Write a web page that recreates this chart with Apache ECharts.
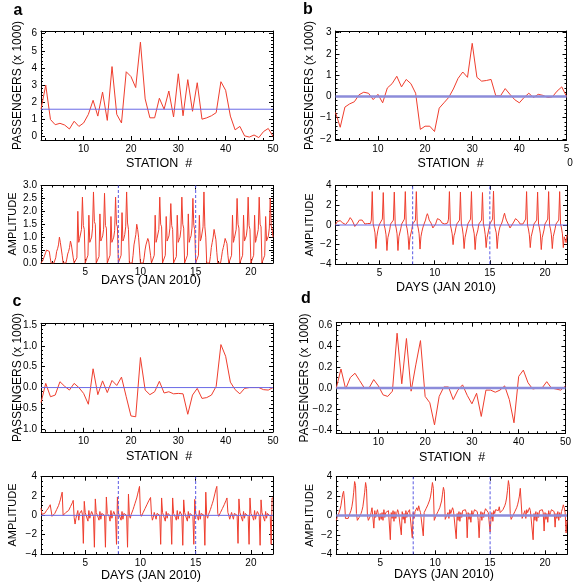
<!DOCTYPE html>
<html><head><meta charset="utf-8">
<script src="https://cdn.jsdelivr.net/npm/echarts@6/dist/echarts.min.js"></script>
<style>html,body{margin:0;padding:0;background:#fff}#chart{width:574px;height:583px}</style>
</head><body><div id="chart"></div>
<script>
// ---------- DATA ----------
const stations = [1,2,3,4,5,6,7,8,9,10,11,12,13,14,15,16,17,18,19,20,21,22,23,24,25,26,27,28,29,30,31,32,33,34,35,36,37,38,39,40,41,42,43,44,45,46,47,48,49,50];
const passengersA = [1.6,3.0,1.0,0.7,0.78,0.68,0.45,0.9,0.6,0.8,1.3,2.12,1.2,2.6,0.95,4.08,1.3,0.8,3.78,3.5,2.86,5.5,2.2,1.1,1.1,2.24,1.6,2.66,1.15,3.66,1.22,3.32,1.48,3.14,1.02,1.1,1.22,1.4,3.2,2.7,1.2,0.4,0.6,0.05,-0.02,0.1,-0.05,0.3,0.48,0.02];
const meanA = 1.6;
const passengersB = [-0.75,-1.45,-0.5,-0.35,-0.25,0.08,0.2,0.15,-0.15,0.1,-0.3,0.4,0.6,0.95,0.45,0.8,0.6,0.15,-1.55,-1.4,-1.4,-1.65,-0.55,-0.3,-0.05,0.35,0.85,1.15,0.9,2.5,0.9,0.72,0.75,0.8,0.03,0.03,0.37,0.1,-0.15,-0.3,-0.05,0.15,-0.05,0.1,0.05,-0.05,-0.02,0.25,0.45,0.0];
const passengersC = [-0.36,0.1,-0.22,-0.18,0.14,0.03,-0.06,0.1,0.0,-0.14,-0.4,0.45,-0.17,0.16,-0.12,0.17,0.05,0.25,-0.22,-0.68,-0.7,0.72,-0.06,-0.17,-0.1,0.15,-0.13,-0.1,-0.15,-0.14,-0.15,-0.64,-0.18,-0.02,-0.26,-0.24,-0.18,0.03,1.03,0.75,0.13,-0.05,-0.15,-0.02,0.0,0.0,0.0,-0.05,-0.06,0.0];
const passengersD = [0.0,0.18,-0.01,0.1,0.14,0.07,0.0,0.0,0.08,0.02,-0.065,-0.08,-0.03,0.52,0.04,0.47,-0.03,0.22,0.45,-0.08,-0.14,-0.35,-0.08,0.01,0.01,-0.11,-0.02,0.03,-0.07,-0.15,-0.05,-0.27,-0.02,-0.02,-0.04,-0.02,0.02,-0.11,-0.33,0.11,0.17,0.05,-0.01,0.0,0.0,0.06,0.0,-0.01,-0.02,0.02];
const zeroLine = 0;

const days = [1,2,3,4,5,6,7,8,9,10,11,12,13,14,15,16,17,18,19,20,21,22];
const hoursOfDay = [0,2,4,6,8,10,12,14,16,18,20,22];
const amplitudeA = [
 [0,0.05,0.1,0.2,0.3,0.4,0.5,0.55,0.48,0.45,0.2,0],
 [0,0,0,0,0.2,0.45,0.55,0.7,1.0,0.8,0.75,0.3],
 [0,0,0,0,0.15,0.35,0.45,0.6,0.85,0.7,0.65,0.2],
 [0,0,0,0.2,2.0,0.8,0.95,1.0,1.3,2.55,1.45,1.3],
 [0,0,0,0.3,1.85,0.8,0.9,1.0,1.35,2.75,1.6,1.5],
 [0,0,0,0.25,1.9,0.85,0.95,1.05,1.3,2.7,1.45,1.35],
 [0,0,0,0.3,1.8,0.8,0.9,1.0,1.25,2.55,1.5,1.4],
 [0,0,0,0.3,1.95,0.85,0.95,1.1,1.4,2.75,1.55,1.3],
 [0,0,0,0,0.3,0.7,0.9,1.1,1.5,1.3,1.0,0.5],
 [0,0,0,0,0.2,0.5,0.7,0.75,0.95,0.85,0.8,0.3],
 [0,0,0,0.3,1.85,0.8,0.95,1.0,1.3,2.55,1.5,1.4],
 [0,0,0,0.3,1.8,0.85,0.9,1.05,1.35,2.3,1.45,1.3],
 [0,0,0,0.25,1.85,0.8,0.9,1.0,1.3,2.55,1.5,1.35],
 [0,0,0,0.3,1.9,0.8,0.95,1.05,1.35,2.5,1.45,1.3],
 [0,0,0,0.3,1.85,0.85,0.95,1.0,1.4,2.75,1.4,1.0],
 [0,0,0,0,0.25,0.6,0.8,1.0,1.3,1.1,0.9,0.4],
 [0,0,0,0,0.2,0.45,0.6,0.75,0.95,0.85,0.75,0.3],
 [0,0,0,0.3,1.85,0.8,0.95,1.0,1.3,2.5,1.5,1.35],
 [0,0,0,0.3,1.85,0.85,0.9,1.05,1.35,2.55,1.45,1.3],
 [0,0,0,0.3,1.85,0.8,0.95,1.0,1.3,2.55,1.5,1.4],
 [0,0,0,0.3,1.8,0.85,0.9,1.05,1.35,2.5,1.45,1.3],
 [1.0]
];
const amplitudeB = [
 [0.05,0.2,0.35,0.45,0.5,0.45,0.35,0.3,0.2,0.1,0.05,0.05],
 [0.1,0.2,0.4,0.6,0.75,0.7,0.5,0.35,0.1,-0.15,-0.1,0.05],
 [0.2,0.35,0.5,0.65,0.6,0.5,0.4,0.3,0.1,0.1,0.2,0.15],
 [0.1,0.1,0.15,0.5,3.4,0.1,-0.3,-0.8,-2.4,-1.2,-0.6,-0.2],
 [0.1,0.1,0.2,0.6,3.3,0.0,-0.4,-1.0,-2.6,-1.3,-1.4,-0.5],
 [0.1,0.1,0.2,0.5,3.35,0.1,-0.3,-0.9,-2.6,-1.2,-1.3,-0.4],
 [0.1,0.1,0.2,0.6,3.4,0.0,-0.4,-1.1,-2.5,-1.3,-1.2,-0.5],
 [0.1,0.1,0.2,0.5,3.4,0.1,-0.3,-0.9,-2.45,-1.2,-0.7,-0.3],
 [0.0,0.2,0.5,0.9,1.15,0.9,0.5,0.3,0.2,0.0,-0.3,-0.4],
 [-0.1,0.1,0.4,0.65,0.75,0.6,0.5,0.35,0.2,0.1,0.05,0.1],
 [0.1,0.1,0.2,0.6,3.4,0.0,-0.4,-0.9,-2.0,-1.1,-0.8,-0.3],
 [0.1,0.1,0.2,0.5,3.35,0.1,-0.3,-1.0,-2.4,-1.3,-1.2,-0.4],
 [0.1,0.1,0.2,0.6,3.4,0.0,-0.4,-0.9,-2.5,-1.2,-1.1,-0.5],
 [0.1,0.1,0.2,0.5,3.3,0.1,-0.3,-1.0,-2.3,-1.3,-1.2,-0.4],
 [0.1,0.1,0.2,0.6,3.45,0.0,-0.4,-0.8,-2.4,-1.2,-0.6,-0.2],
 [0.0,0.2,0.5,0.9,1.2,0.8,0.5,0.3,0.1,-0.1,-0.3,-0.2],
 [0.0,0.1,0.3,0.5,0.65,0.75,0.6,0.4,0.2,0.1,0.15,0.2],
 [0.1,0.1,0.2,0.6,3.4,0.0,-0.4,-1.0,-2.3,-1.2,-1.1,-0.4],
 [0.1,0.1,0.2,0.5,3.35,0.1,-0.3,-0.9,-2.5,-1.3,-1.2,-0.5],
 [0.1,0.1,0.2,0.6,3.4,0.0,-0.4,-1.0,-2.4,-1.2,-1.1,-0.4],
 [0.1,0.1,0.2,0.5,3.4,0.1,-0.3,-0.9,-2.3,-1.2,-1.5,-1.8],
 [-1.0]
];
const amplitudeC = [
 [0.75,0.1,0.0,0.1,0.2,0.35,0.5,0.6,0.75,0.9,1.1,1.3],
 [-0.1,-0.2,0.0,0.2,0.4,0.6,0.8,1.0,1.3,1.6,2.0,2.4],
 [0.0,-0.2,0.0,0.3,0.1,0.3,0.5,0.7,0.9,1.1,1.3,1.55],
 [-0.2,-0.9,-0.3,0.1,0.5,-0.5,0.2,0.4,0.5,0.1,-2.9,1.45],
 [0.3,0.0,-0.2,-0.6,0.5,-0.3,0.1,0.4,0.3,-0.1,-3.3,1.7],
 [0.3,0.1,-0.2,-0.5,0.4,-0.4,0.2,0.3,0.4,0.0,-3.3,1.9],
 [0.2,0.0,-0.1,-0.6,0.5,-0.3,0.1,0.4,0.3,-0.1,-3.0,1.9],
 [0.3,0.0,-0.2,-0.5,0.4,-0.4,0.2,0.35,0.3,0.0,-3.3,2.2],
 [0.0,-0.3,0.1,0.3,0.6,0.9,1.2,1.5,1.8,2.2,2.6,3.0],
 [0.2,-0.1,0.0,0.3,0.5,0.7,0.9,1.1,1.3,1.5,1.7,1.85],
 [0.1,-0.5,-0.2,0.3,0.5,-0.4,0.2,0.4,0.3,0.0,-3.0,1.8],
 [0.3,0.0,-0.2,-0.6,0.4,-0.3,0.2,0.35,0.4,-0.1,-3.0,1.8],
 [0.2,0.1,-0.2,-0.5,0.5,-0.4,0.1,0.4,0.3,0.0,-3.1,1.6],
 [0.3,0.0,-0.1,-0.6,0.4,-0.3,0.2,0.3,0.4,-0.1,-3.0,1.65],
 [0.2,0.0,-0.2,-0.5,0.5,-0.4,0.2,0.35,0.3,0.0,-3.1,2.4],
 [0.0,-0.3,0.1,0.3,0.6,0.9,1.2,1.5,1.9,2.3,2.7,3.0],
 [0.2,-0.1,0.0,0.3,0.5,0.7,0.9,1.1,1.3,1.55,1.8,0.3],
 [0.0,-0.4,-0.2,0.3,0.5,-0.4,0.2,0.4,0.3,0.0,-2.9,1.7],
 [0.3,0.0,-0.2,-0.6,0.4,-0.3,0.2,0.35,0.4,-0.1,-3.0,1.8],
 [0.2,0.1,-0.2,-0.5,0.5,-0.4,0.1,0.4,0.3,0.0,-3.1,1.6],
 [0.3,0.0,-0.1,-0.6,0.4,-0.3,0.2,0.3,0.4,-0.1,-3.0,1.8],
 [1.8]
];
const amplitudeD = [
 [-0.5,-0.2,0.0,0.3,0.6,1.0,1.6,2.2,2.5,1.5,-0.3,-0.3],
 [-0.2,-0.3,0.0,0.2,0.5,0.9,1.5,2.4,3.5,3.1,0.2,-0.5],
 [-0.3,-0.2,0.0,0.2,0.5,0.9,1.6,2.4,3.4,2.8,0.0,-0.5],
 [-0.3,-0.1,0.3,0.8,1.0,-1.3,0.5,-0.2,0.3,0.6,0.4,-0.5],
 [0.2,-0.4,0.3,-0.5,0.6,-0.2,0.3,0.5,0.2,0.5,0.3,-2.5],
 [0.3,-0.3,0.5,-0.6,0.4,-0.3,0.2,0.6,0.3,0.4,0.5,-2.0],
 [0.4,-0.4,0.2,-0.8,0.5,-0.2,0.3,0.4,0.6,0.8,0.5,-2.3],
 [0.3,-0.3,0.4,0.6,0.8,0.5,1.0,0.6,0.3,0.5,0.4,-2.1],
 [0.3,0.5,0.7,0.9,1.1,1.3,1.6,2.0,2.6,3.4,2.8,-0.5],
 [-0.3,0.0,0.2,0.4,0.6,0.8,1.0,1.5,2.2,2.9,2.5,-0.4],
 [-0.2,-0.5,0.3,-0.3,0.6,0.2,0.4,0.8,0.5,0.3,0.6,-2.4],
 [0.2,-0.5,0.4,-0.6,0.3,-0.2,0.5,0.7,0.4,0.6,0.3,-2.3],
 [0.3,-0.4,0.2,-0.7,0.5,0.0,0.3,0.6,0.8,0.5,0.4,-0.5],
 [-2.3,-0.3,0.4,-0.5,0.3,-0.2,0.4,0.7,0.5,0.8,0.3,0.5],
 [-1.7,-0.4,0.3,-0.6,0.5,0.2,0.6,0.4,0.8,0.5,0.9,0.3],
 [0.2,0.4,0.6,0.8,1.0,1.3,1.8,2.6,3.6,3.0,0.2,-0.4],
 [-0.3,0.0,0.2,0.4,0.6,0.8,1.1,1.5,2.0,2.8,2.6,-0.3],
 [-0.4,-0.2,0.5,-0.3,0.6,0.3,0.4,0.8,0.5,0.3,0.6,-2.5],
 [0.2,-0.5,0.4,-0.6,0.3,-0.2,0.5,0.7,0.4,0.6,0.3,-1.6],
 [0.3,-0.4,0.2,-0.7,0.5,0.0,0.3,0.6,0.8,0.5,0.4,-1.2],
 [0.2,-0.3,0.4,-0.5,0.3,-0.2,0.4,0.7,1.1,0.8,0.3,-1.8],
 [-0.5]
];
const weekMarkers = [8, 15];
const stationTicks = [10,20,30,40,50];
const dayTicks = [5,10,15,20];
const yTicksA1 = [0,1,2,3,4,5,6];
const yTicksB1 = [-2,-1,0,1,2,3];
const yTicksC1 = [-1.0,-0.5,0.0,0.5,1.0,1.5];
const yTicksD1 = [-0.4,-0.2,0.0,0.2,0.4,0.6];
const yTicksA2 = [0.0,0.5,1.0,1.5,2.0,2.5,3.0];
const yTicksAmp = [-4,-2,0,2,4];

// ---------- BUILD ----------
const RED = '#ef3d2d';
const FONT = 'Liberation Sans, Arial, Helvetica, sans-serif';
function stationSeries(vals){ return stations.map((s,i)=>[s, vals[i]]); }
function timeSeries(rows){
  const out = [];
  rows.forEach((row, d) => row.forEach((v, h) => out.push([days[d] + hoursOfDay[h]/24, v])));
  return out;
}
function minorList(min, max, step){
  const out=[]; let k=Math.ceil(min/step - 1e-9);
  for(;;k++){ const v=+(k*step).toFixed(6); if(v>max+1e-9) break; out.push(v); }
  return out;
}
function fmt(dec){ return v => { if (Math.abs(v)<1e-9) v=0; return v.toFixed(dec).replace('-', '\u2212'); }; }

const THIN = '#6a6ae6', THICK = '#8c8cda', DASH = '#5a5ae4';
const panels = [
 {grid:[41,31,232,109], x:[1,50], xt:stationTicks, xm:2, y:[-0.19,6.15], yt:yTicksA1, ym:0.2, yf:fmt(0), data:stationSeries(passengersA), h:{v:meanA,c:THIN,w:1}, xfmt:fmt(0)},
 {grid:[335.5,31,231,109], x:[1,50], xt:stationTicks, xm:2, y:[-2.05,3.08], yt:yTicksB1, ym:0.2, yf:fmt(0), data:stationSeries(passengersB), h:{v:zeroLine,c:THICK,w:2.5}, xfmt:v=>v===50?'5':String(v)},
 {grid:[41,185.5,232,77.5], x:[1,22], xt:dayTicks, xm:1, y:[0,3], yt:yTicksA2, ym:0.1, yf:fmt(1), data:timeSeries(amplitudeA), h:null, dash:true, xfmt:fmt(0)},
 {grid:[335.5,185.7,231.5,78.6], x:[1,22], xt:dayTicks, xm:1, y:[-4,4], yt:yTicksAmp, ym:0.5, yf:fmt(0), data:timeSeries(amplitudeB), h:{v:zeroLine,c:THIN,w:1}, dash:true, xfmt:fmt(0)},
 {grid:[41,323.3,232,108.5], x:[1,50], xt:stationTicks, xm:2, y:[-1.06,1.54], yt:yTicksC1, ym:0.1, yf:fmt(1), data:stationSeries(passengersC), h:{v:zeroLine,c:THIN,w:1}, xfmt:fmt(0)},
 {grid:[336.3,322.7,231.7,110.6], x:[1,50], xt:stationTicks, xm:2, y:[-0.43,0.62], yt:yTicksD1, ym:0.05, yf:fmt(1), data:stationSeries(passengersD), h:{v:zeroLine,c:THICK,w:2.5}, xfmt:fmt(0)},
 {grid:[41,476.7,232,77.3], x:[1,22], xt:dayTicks, xm:1, y:[-4,4], yt:yTicksAmp, ym:0.5, yf:fmt(0), data:timeSeries(amplitudeC), h:{v:zeroLine,c:THIN,w:1}, dash:true, xfmt:fmt(0)},
 {grid:[336.3,476.7,230.7,77.6], x:[1,22], xt:dayTicks, xm:1, y:[-4,4], yt:yTicksAmp, ym:0.5, yf:fmt(0), data:timeSeries(amplitudeD), h:{v:zeroLine,c:THICK,w:2.5}, dash:true, xfmt:fmt(0)}
];

const grids=[], xAxes=[], yAxes=[], series=[];
panels.forEach((p, gi) => {
  grids.push({left:p.grid[0], top:p.grid[1], width:p.grid[2], height:p.grid[3], containLabel:false});
  const mk = (isX, pos, major, labelled) => {
    const r = isX ? p.x : p.y;
    const ticks = isX ? p.xt : p.yt;
    const minors = minorList(r[0], r[1], isX ? p.xm : p.ym);
    return {
      gridIndex: gi, type:'value', position: pos, min:r[0], max:r[1],
      splitLine:{show:false},
      axisLine:{show: major, onZero:false, lineStyle:{color:'#000', width:1}},
      axisTick:{show:true, inside:true, length: major?4:2, customValues: major?ticks:minors, lineStyle:{color:'#000', width:1}},
      axisLabel:{show: labelled, customValues: ticks, formatter: isX ? p.xfmt : p.yf, fontSize:10, color:'#000', fontFamily:FONT, margin:4, showMinLabel:true, showMaxLabel:true},
      axisPointer:{show:false}
    };
  };
  const xi = xAxes.length, yi = yAxes.length;
  xAxes.push(mk(true,'bottom',true,true), mk(true,'bottom',false,false), mk(true,'top',true,false), mk(true,'top',false,false));
  yAxes.push(mk(false,'left',true,true), mk(false,'left',false,false), mk(false,'right',true,false), mk(false,'right',false,false));
  series.push({
    type:'line', xAxisIndex:xi, yAxisIndex:yi, data:p.data, showSymbol:false, symbol:'none',
    lineStyle:{color:RED, width:1}, itemStyle:{color:RED}, animation:false, clip:true, z:2
  });
  if (p.h) {
    series.push({type:'line', xAxisIndex:xi, yAxisIndex:yi, data:[[p.x[0], p.h.v],[p.x[1], p.h.v]],
      showSymbol:false, symbol:'none', animation:false, z:3, silent:true,
      lineStyle:{color:p.h.c, width:p.h.w, type:'solid'}, itemStyle:{color:p.h.c}});
  }
  if (p.dash) {
    weekMarkers.forEach(d => series.push({type:'line', xAxisIndex:xi, yAxisIndex:yi, data:[[d, p.y[0]],[d, p.y[1]]],
      showSymbol:false, symbol:'none', animation:false, z:3, silent:true,
      lineStyle:{color:DASH, width:1, type:[3,2]}, itemStyle:{color:DASH}}));
  }
});

function txt(x, y, text, size, bold){
  return {type:'text', x, y, silent:true, style:{text, fontSize:size, fontWeight: bold?'bold':'normal', fontFamily:FONT, fill:'#000', align:'center', verticalAlign:'middle'}};
}
function vtxt(x, y, text, size){
  return {type:'text', x, y, rotation:Math.PI/2, silent:true, style:{text, fontSize:size, fontFamily:FONT, fill:'#000', align:'center', verticalAlign:'middle'}};
}
const graphics = [
  txt(18, 11, 'a', 16, true),
  txt(308, 10, 'b', 16, true),
  txt(17, 302, 'c', 16, true),
  txt(306, 299, 'd', 16, true),
  vtxt(18, 85.5, 'PASSENGERS (x 1000)', 12),
  vtxt(310, 85.5, 'PASSENGERS (x 1000)', 12),
  vtxt(18, 377.5, 'PASSENGERS (x 1000)', 12),
  vtxt(305, 378, 'PASSENGERS (x 1000)', 12),
  vtxt(13, 224, 'AMPLITUDE', 11),
  vtxt(310, 225, 'AMPLITUDE', 11),
  vtxt(13, 515, 'AMPLITUDE', 11),
  vtxt(310, 515.5, 'AMPLITUDE', 11),
  txt(159, 164, 'STATION  #', 12.5),
  txt(450.5, 164, 'STATION  #', 12.5),
  txt(159, 457, 'STATION  #', 12.5),
  txt(452, 458, 'STATION  #', 12.5),
  txt(151, 281, 'DAYS (JAN 2010)', 12.5),
  txt(446, 288, 'DAYS (JAN 2010)', 12.5),
  txt(151, 576, 'DAYS (JAN 2010)', 12.5),
  txt(444, 575, 'DAYS (JAN 2010)', 12.5),
  txt(570, 163, '0', 10)
];

const chart = echarts.init(document.getElementById('chart'), null, {renderer:'canvas'});
chart.setOption({
  animation:false, backgroundColor:'#fff',
  grid:grids, xAxis:xAxes, yAxis:yAxes, series:series,
  graphic:{elements:graphics}
});
</script></body></html>
